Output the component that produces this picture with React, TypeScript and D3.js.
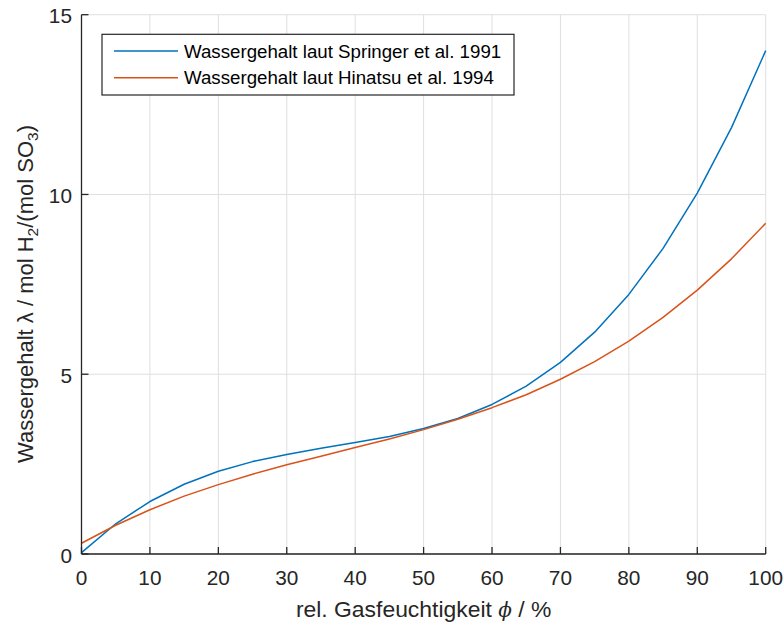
import React from "react";
import * as d3 from "d3";

const humidity = [0, 5, 10, 15, 20, 25, 30, 35, 40, 45, 50, 55, 60, 65, 70, 75, 80, 85, 90, 95, 100];
const springer = [0.04, 0.84, 1.46, 1.94, 2.30, 2.57, 2.77, 2.94, 3.10, 3.27, 3.49, 3.77, 4.16, 4.67, 5.33, 6.17, 7.22, 8.50, 10.04, 11.86, 14.00];
const hinatsu = [0.30, 0.80, 1.23, 1.61, 1.93, 2.22, 2.48, 2.72, 2.96, 3.20, 3.46, 3.75, 4.07, 4.43, 4.86, 5.35, 5.92, 6.58, 7.34, 8.21, 9.20];
const xTicks = [0, 10, 20, 30, 40, 50, 60, 70, 80, 90, 100];
const yTicks = [0, 5, 10, 15];
const seriesNames = ["Wassergehalt laut Springer et al. 1991", "Wassergehalt laut Hinatsu et al. 1994"];
const seriesColors = ["#0072BD", "#D95319"];

const W = 783;
const H = 624;
const FONT = "'Liberation Sans', Arial, Helvetica, sans-serif";
const AX = "#262626";

export default function App() {
  const x = d3.scaleLinear().domain([0, 100]).range([81.5, 765.7]);
  const y = d3.scaleLinear().domain([0, 15]).range([554, 14.7]);
  const series = [springer, hinatsu];
  const line = (vals: number[]) =>
    d3.line<number>().x((_, i) => x(humidity[i])).y((v) => y(v))(vals) || "";
  const [x0, x1] = x.range();
  const [y0, y1] = y.range();

  return (
    <div style={{ position: "fixed", left: 0, top: 0 }}>
      <svg width={W} height={H} style={{ display: "block", background: "#fff" }} fontFamily={FONT}>
        {/* grid */}
        {xTicks.map((t) => (
          <line key={"gx" + t} x1={x(t)} x2={x(t)} y1={y0} y2={y1} stroke="#dfdfdf" strokeWidth={1} />
        ))}
        {yTicks.map((t) => (
          <line key={"gy" + t} x1={x0} x2={x1} y1={y(t)} y2={y(t)} stroke="#dfdfdf" strokeWidth={1} />
        ))}
        {/* data */}
        {series.map((s, i) => (
          <path key={"s" + i} d={line(s)} fill="none" stroke={seriesColors[i]} strokeWidth={1.5} strokeLinejoin="round" />
        ))}
        {/* axes */}
        <line x1={x0} x2={x1} y1={y0} y2={y0} stroke={AX} strokeWidth={1.3} />
        <line x1={x0} x2={x0} y1={y0} y2={y1} stroke={AX} strokeWidth={1.3} />
        {xTicks.map((t) => (
          <g key={"xt" + t}>
            <line x1={x(t)} x2={x(t)} y1={y0} y2={y0 - 7} stroke={AX} strokeWidth={1.3} />
            <text x={x(t)} y={585} textAnchor="middle" fontSize={20.8} fill={AX}>
              {t}
            </text>
          </g>
        ))}
        {yTicks.map((t) => (
          <g key={"yt" + t}>
            <line x1={x0} x2={x0 + 7} y1={y(t)} y2={y(t)} stroke={AX} strokeWidth={1.3} />
            <text x={72} y={y(t) + 8.5} textAnchor="end" fontSize={20.8} fill={AX}>
              {t}
            </text>
          </g>
        ))}
        {/* axis labels */}
        <text x={(x0 + x1) / 2} y={617} textAnchor="middle" fontSize={22.9} fill={AX}>
          rel. Gasfeuchtigkeit <tspan fontStyle="italic" fontFamily="'DejaVu Serif', serif" fontSize={20}>ϕ</tspan> / %
        </text>
        <text
          transform={`translate(33, 294) rotate(-90)`}
          textAnchor="middle"
          fontSize={22}
          fill={AX}
        >
          Wassergehalt λ / mol H<tspan fontSize={15.5} dy={5}>2</tspan>
          <tspan dy={-5}>/(mol SO</tspan>
          <tspan fontSize={15.5} dy={5}>3</tspan>
          <tspan dy={-5}>)</tspan>
        </text>
        {/* legend */}
        <rect x={102} y={34.3} width={412} height={60.7} fill="#fff" stroke={AX} strokeWidth={1.2} />
        {seriesNames.map((n, i) => {
          const ly = 51 + i * 26.7;
          return (
            <g key={"lg" + i}>
              <line x1={114} x2={178} y1={ly} y2={ly} stroke={seriesColors[i]} strokeWidth={1.5} />
              <text x={184} y={ly + 6.7} fontSize={18.7} fill="#000">
                {n}
              </text>
            </g>
          );
        })}
      </svg>
    </div>
  );
}
